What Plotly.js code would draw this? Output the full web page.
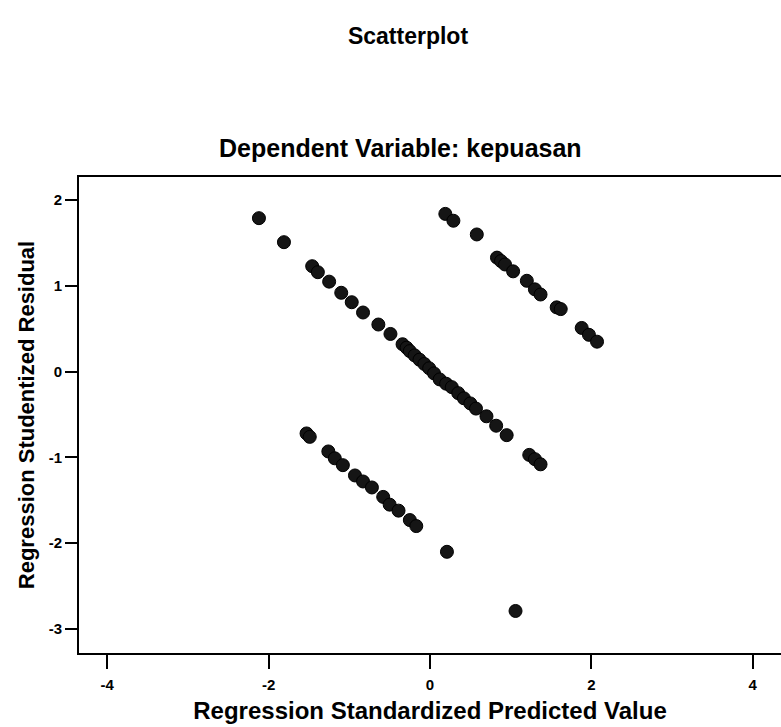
<!DOCTYPE html>
<html>
<head>
<meta charset="utf-8">
<script src="https://cdn.plot.ly/plotly-3.0.1.min.js"></script>
<style>html,body{margin:0;padding:0;background:#fff;}#chart{width:781px;height:727px;}</style>
</head>
<body>
<div id="chart"></div>
<script>
// Regression Standardized Predicted Value (x) and Regression Studentized Residual (y)
const predictedValue = [
  -2.12, -1.81,
  -1.46, -1.39, -1.25, -1.10, -0.97, -0.83, -0.64, -0.49, -0.34, -0.29, -0.25, -0.19, -0.13, -0.07, -0.01,
  0.05, 0.12, 0.20, 0.27, 0.35, 0.42, 0.50, 0.57, 0.70, 0.82, 0.95, 1.23, 1.30, 1.37,
  0.19, 0.29, 0.58, 0.83, 0.88, 0.93, 1.03, 1.20, 1.30, 1.37, 1.57, 1.62, 1.88, 1.97, 2.07,
  -1.53, -1.49, -1.26, -1.18, -1.08, -0.93, -0.83, -0.72, -0.58, -0.50, -0.39, -0.25, -0.17,
  0.21, 1.06
];
const studentizedResidual = [
  1.79, 1.51,
  1.23, 1.16, 1.05, 0.92, 0.81, 0.69, 0.55, 0.44, 0.32, 0.28, 0.24, 0.19, 0.14, 0.09, 0.04,
  -0.02, -0.09, -0.14, -0.18, -0.25, -0.31, -0.37, -0.43, -0.52, -0.63, -0.74, -0.97, -1.02, -1.08,
  1.84, 1.76, 1.60, 1.33, 1.29, 1.25, 1.17, 1.06, 0.96, 0.90, 0.75, 0.73, 0.51, 0.43, 0.35,
  -0.72, -0.76, -0.93, -1.01, -1.09, -1.21, -1.28, -1.35, -1.46, -1.55, -1.62, -1.73, -1.80,
  -2.10, -2.79
];
const xTickValues = [-4, -2, 0, 2, 4];
const xTickLabels = ['-4', '-2', '0', '2', '4'];
const yTickValues = [2, 1, 0, -1, -2, -3];
const yTickLabels = ['2', '1', '0', '-1', '-2', '-3'];

const FONT = '"Liberation Sans Narrow", "Arial Narrow", "Liberation Sans", Arial, sans-serif';

const trace = {
  type: 'scatter',
  mode: 'markers',
  x: predictedValue,
  y: studentizedResidual,
  marker: { size: 13, color: '#151515', line: { color: '#000', width: 1 } },
  hoverinfo: 'x+y'
};

const layout = {
  width: 781,
  height: 727,
  paper_bgcolor: '#fff',
  plot_bgcolor: '#fff',
  showlegend: false,
  margin: { l: 79, r: 0, t: 177, b: 74 },
  font: { family: FONT, color: '#000', weight: 700 },
  title: {
    text: 'Scatterplot',
    font: { family: FONT, size: 23, color: '#000', weight: 700 },
    x: 408 / 781, xanchor: 'center', xref: 'container',
    y: 1 - 36 / 727, yanchor: 'middle', yref: 'container'
  },
  annotations: [{
    text: 'Dependent Variable: kepuasan',
    xref: 'paper', yref: 'paper',
    x: (400 - 79) / 702, y: (653 - 148) / 476,
    xanchor: 'center', yanchor: 'middle',
    showarrow: false,
    font: { family: FONT, size: 25, color: '#000', weight: 700 }
  }],
  xaxis: {
    range: [-4.35, 4.35],
    tickmode: 'array', tickvals: xTickValues, ticktext: xTickLabels,
    ticks: 'outside', ticklen: 14, tickwidth: 2, tickcolor: '#000',
    ticklabelstandoff: 3,
    showline: true, linecolor: '#000', linewidth: 2, mirror: true,
    showgrid: false, zeroline: false,
    tickfont: { family: FONT, size: 15, color: '#000', weight: 700 },
    title: { text: 'Regression Standardized Predicted Value', standoff: 10,
             font: { family: FONT, size: 24, color: '#000', weight: 700 } }
  },
  yaxis: {
    range: [-3.28, 2.27],
    tickmode: 'array', tickvals: yTickValues, ticktext: yTickLabels,
    ticks: 'outside', ticklen: 12, tickwidth: 2, tickcolor: '#000',
    showline: true, linecolor: '#000', linewidth: 2, mirror: false,
    showgrid: false, zeroline: false,
    tickfont: { family: FONT, size: 15, color: '#000', weight: 700 },
    title: { text: 'Regression Studentized Residual', standoff: 8,
             font: { family: FONT, size: 22, color: '#000', weight: 700 } }
  }
};

Plotly.newPlot('chart', [trace], layout, { displayModeBar: false, staticPlot: false });
</script>
</body>
</html>
